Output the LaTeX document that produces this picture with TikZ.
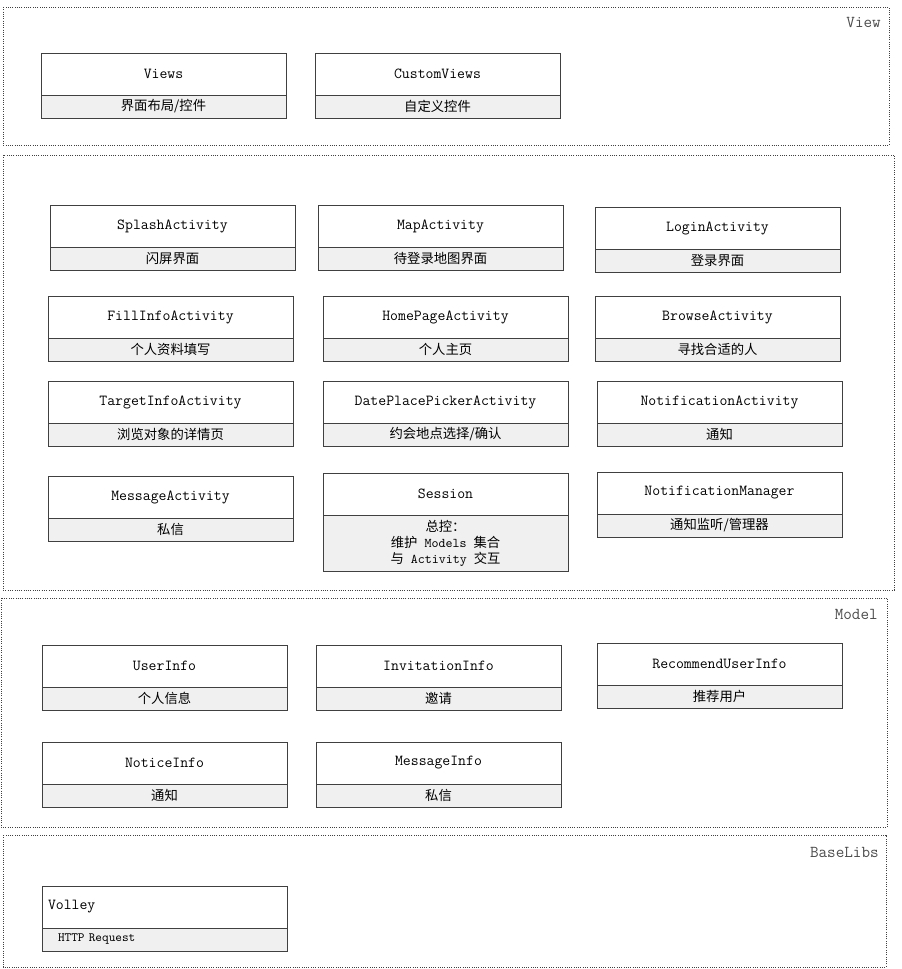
\documentclass[tikz,border=0pt]{standalone}
\usepackage{fontspec}
\newfontfamily\cjk{Noto Sans CJK SC}
\usetikzlibrary{positioning}
\newcommand{\zh}[1]{{\cjk\fontsize{10}{12}\selectfont #1}}
\tikzset{
    layer/.style={draw=black!75, densely dotted, line width=0.7pt},
    layerlabel/.style={anchor=east, text=black!70, inner sep=0pt, font=\ttfamily\fontsize{12.5}{14}\selectfont},
    clsbox/.style={draw=black!75, line width=0.6pt, fill=white, minimum width=183.75pt,
        minimum height=31.5pt, inner sep=0pt, outer sep=0pt, anchor=north west},
    descbox/.style={draw=black!75, line width=0.6pt, fill=black!6, minimum width=183.75pt,
        minimum height=17.25pt, inner sep=0pt, outer sep=0pt, below=0pt of #1},
}
\begin{document}
\begin{tikzpicture}[x=0.75pt, y=-0.75pt, font=\ttfamily\fontsize{11.5}{12}\selectfont]
    \useasboundingbox (0, 0) rectangle (901, 969);

    % layers
    \draw[layer] (3, 7) rectangle (889, 145);
    \node[layerlabel] (viewlbl) at (881, 22) {View};
    \draw[layer] (3, 155) rectangle (894, 590);
    \draw[layer] (1, 598) rectangle (887, 827);
    \node[layerlabel] (modellbl) at (878, 614) {Model};
    \draw[layer] (3, 835) rectangle (886, 967);
    \node[layerlabel] (baselbl) at (879, 852) {BaseLibs};

    % View
    \node[clsbox] (views) at (41, 53) {Views};
    \node[descbox=views] (viewsd) {\zh{界面布局/控件}};
    \node[clsbox] (custom) at (315, 53) {CustomViews};
    \node[descbox=custom] (customd) {\zh{自定义控件}};

    % Activities
    \node[clsbox] (splash) at (50, 205) {SplashActivity};
    \node[descbox=splash] (splashd) {\zh{闪屏界面}};
    \node[clsbox] (map) at (318, 205) {MapActivity};
    \node[descbox=map] (mapd) {\zh{待登录地图界面}};
    \node[clsbox] (login) at (595, 207) {LoginActivity};
    \node[descbox=login] (logind) {\zh{登录界面}};

    \node[clsbox] (fill) at (48, 296) {FillInfoActivity};
    \node[descbox=fill] (filld) {\zh{个人资料填写}};
    \node[clsbox] (home) at (323, 296) {HomePageActivity};
    \node[descbox=home] (homed) {\zh{个人主页}};
    \node[clsbox] (browse) at (595, 296) {BrowseActivity};
    \node[descbox=browse] (browsed) {\zh{寻找合适的人}};

    \node[clsbox] (target) at (48, 381) {TargetInfoActivity};
    \node[descbox=target] (targetd) {\zh{浏览对象的详情页}};
    \node[clsbox] (picker) at (323, 381) {DatePlacePickerActivity};
    \node[descbox=picker] (pickerd) {\zh{约会地点选择/确认}};
    \node[clsbox] (notif) at (597, 381) {NotificationActivity};
    \node[descbox=notif] (notifd) {\zh{通知}};

    \node[clsbox] (msg) at (48, 476) {MessageActivity};
    \node[descbox=msg] (msgd) {\zh{私信}};
    \node[clsbox] (session) at (323, 473) {Session};
    \node[descbox=session, minimum height=42pt, align=center,
        font=\ttfamily\fontsize{10}{12}\selectfont] (sessiond)
        {\zh{总控：}\\\zh{维护} Models \zh{集合}\\\zh{与} Activity \zh{交互}};
    \node[clsbox] (notifmgr) at (597, 472) {NotificationManager};
    \node[descbox=notifmgr] (notifmgrd) {\zh{通知监听/管理器}};

    % Model
    \node[clsbox] (user) at (42, 645) {UserInfo};
    \node[descbox=user] (userd) {\zh{个人信息}};
    \node[clsbox] (invite) at (316, 645) {InvitationInfo};
    \node[descbox=invite] (invited) {\zh{邀请}};
    \node[clsbox] (recommend) at (597, 643) {RecommendUserInfo};
    \node[descbox=recommend] (recommendd) {\zh{推荐用户}};
    \node[clsbox] (notice) at (42, 742) {NoticeInfo};
    \node[descbox=notice] (noticed) {\zh{通知}};
    \node[clsbox] (msginfo) at (316, 742) {MessageInfo};
    \node[descbox=msginfo] (msginfod) {\zh{私信}};

    % BaseLibs
    \node[clsbox, align=left, text width=174.75pt] (volley) at (42, 886) {Volley};
    \node[descbox=volley, align=left, text width=159.75pt,
        font=\ttfamily\fontsize{9.5}{11}\selectfont] (volleyd) {HTTP Request};
\end{tikzpicture}
\end{document}
